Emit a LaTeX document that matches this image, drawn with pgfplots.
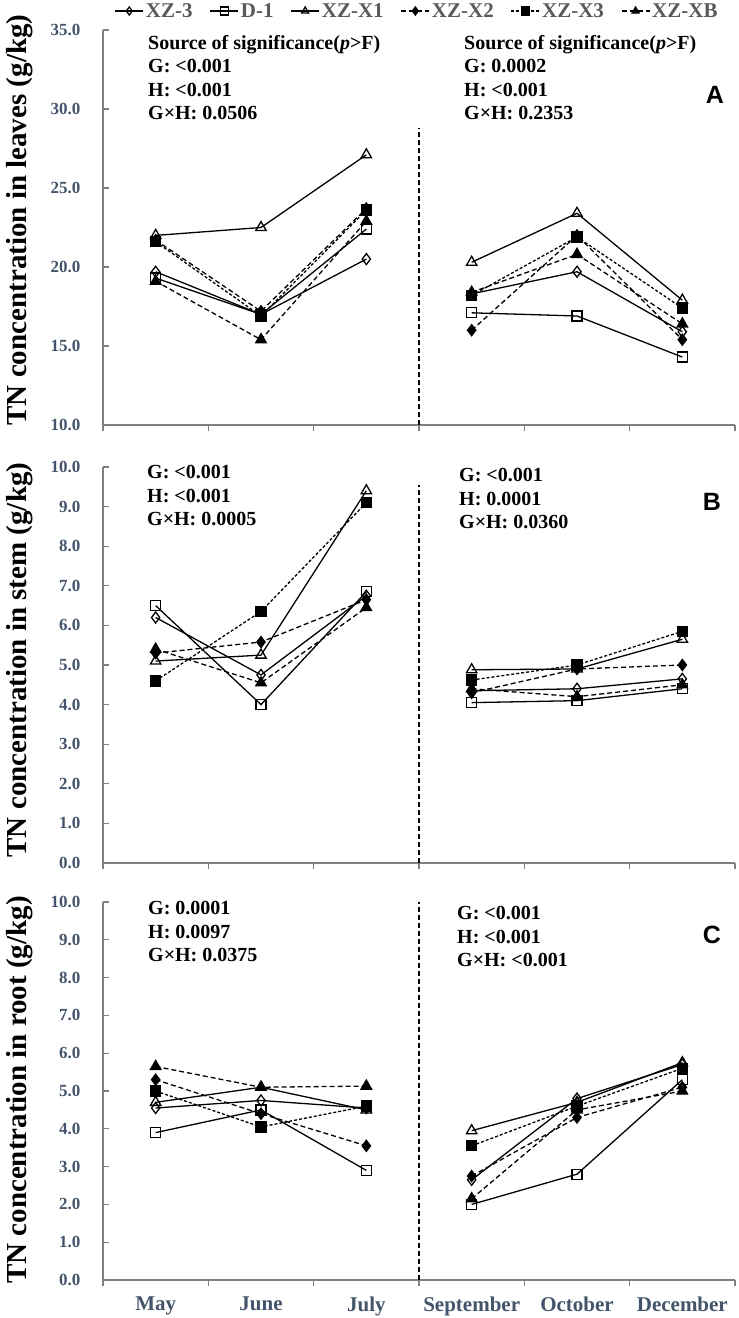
\documentclass[border=0pt]{standalone}
\usepackage{fontspec}
\setmainfont{Liberation Serif}
\newfontfamily\sansfont{Liberation Sans}
\usepackage{pgfplots}
\pgfplotsset{compat=1.18}
\definecolor{ticklab}{RGB}{68,84,106}
\definecolor{axgray}{RGB}{128,128,128}
\definecolor{legtext}{RGB}{90,90,90}
\pgfplotsset{
  panel/.style={
    scale only axis, width=632pt, xmin=-0.5, xmax=5.5,
    axis lines=left, axis line style={-, axgray, line width=1.3pt},
    xtick={-0.5,0.5,...,5.5}, xticklabels={},
    xtick align=outside, ytick align=inside,
    major tick length=6pt,
    every tick/.style={axgray, line width=1.3pt},
    /pgf/number format/assume math mode=true,
    /pgf/number format/.cd, fixed, fixed zerofill, precision=1, /pgfplots/.cd,
    yticklabel style={font=\bfseries\fontsize{17}{17}\selectfont, text=ticklab, xshift=-19pt},
    unbounded coords=jump, clip=false,
    every axis plot/.append style={black, line width=1.3pt},
  },
  s1/.style={solid, mark=diamond, mark size=5.5pt, mark options={solid, fill=white}},
  s2/.style={solid, mark=square, mark size=5pt, mark options={solid, fill=white}},
  s3/.style={solid, mark=triangle, mark size=6pt, mark options={solid, fill=white}},
  s4/.style={dash pattern=on 5pt off 3pt, mark=diamond*, mark size=5.5pt, mark options={solid, fill=black}},
  s5/.style={dash pattern=on 3pt off 2pt, mark=square*, mark size=5pt, mark options={solid, fill=black}},
  s6/.style={dash pattern=on 5pt off 3pt, mark=triangle*, mark size=6pt, mark options={solid, fill=black}},
}
\begin{document}
\begin{tikzpicture}
\path[use as bounding box] (0pt,0pt) rectangle (739pt,-1318pt);
% ---------------- Panel A
\begin{axis}[panel, at={(103pt,-425pt)}, anchor=south west, height=395pt,
  ymin=10, ymax=35, ytick={10,15,...,35},
  legend columns=6,
  legend style={at={(0.497,1)}, anchor=center, draw=none, fill=none, yshift=19pt,
    font=\bfseries\fontsize{21}{21}\selectfont, text=legtext,
    /tikz/every even column/.append style={column sep=15pt}},
  legend image code/.code={\draw[mark repeat=2, mark phase=2, mark size=4pt] plot coordinates {(0pt,0pt) (14pt,0pt) (28pt,0pt)};},
]
\addplot[s1] coordinates {(0,19.7)(1,17.0)(2,20.5)(2.5,nan)(3,18.3)(4,19.7)(5,15.9)};
\addplot[s2] coordinates {(0,19.3)(1,17.0)(2,22.4)(2.5,nan)(3,17.1)(4,16.9)(5,14.3)};
\addplot[s3] coordinates {(0,22.0)(1,22.5)(2,27.1)(2.5,nan)(3,20.3)(4,23.4)(5,17.9)};
\addplot[s4] coordinates {(0,21.7)(1,17.2)(2,23.7)(2.5,nan)(3,16.0)(4,22.0)(5,15.4)};
\addplot[s5] coordinates {(0,21.6)(1,16.9)(2,23.6)(2.5,nan)(3,18.2)(4,21.9)(5,17.4)};
\addplot[s6] coordinates {(0,19.1)(1,15.4)(2,22.9)(2.5,nan)(3,18.4)(4,20.8)(5,16.4)};
\legend{XZ-3,D-1,XZ-X1,XZ-X2,XZ-X3,XZ-XB}
\addplot[forget plot, dash pattern=on 5pt off 3pt, mark=none] coordinates {(2.5,10)(2.5,28.8)};
\end{axis}
% ---------------- Panel B
\begin{axis}[panel, at={(103pt,-863pt)}, anchor=south west, height=396pt,
  ymin=0, ymax=10, ytick={0,1,...,10}]
\addplot[s1] coordinates {(0,6.2)(1,4.75)(2,6.75)(2.5,nan)(3,4.35)(4,4.4)(5,4.65)};
\addplot[s2] coordinates {(0,6.5)(1,4.0)(2,6.85)(2.5,nan)(3,4.05)(4,4.1)(5,4.4)};
\addplot[s3] coordinates {(0,5.1)(1,5.25)(2,9.4)(2.5,nan)(3,4.88)(4,4.9)(5,5.65)};
\addplot[s4] coordinates {(0,5.3)(1,5.58)(2,6.65)(2.5,nan)(3,4.3)(4,4.9)(5,5.0)};
\addplot[s5] coordinates {(0,4.6)(1,6.35)(2,9.1)(2.5,nan)(3,4.62)(4,5.0)(5,5.85)};
\addplot[s6] coordinates {(0,5.4)(1,4.55)(2,6.45)(2.5,nan)(3,4.4)(4,4.2)(5,4.5)};
\addplot[dash pattern=on 5pt off 3pt, mark=none] coordinates {(2.5,0)(2.5,9.55)};
\end{axis}
% ---------------- Panel C
\begin{axis}[panel, at={(103pt,-1280pt)}, anchor=south west, height=378pt,
  ymin=0, ymax=10, ytick={0,1,...,10},
  extra x ticks={0,1,2,3,4,5},
  extra x tick labels={May,June,July,September,October,December},
  extra x tick style={major tick length=0pt,
    xticklabel style={font=\bfseries\fontsize{21}{21}\selectfont, text=ticklab, yshift=-13pt}}]
\addplot[s1] coordinates {(0,4.55)(1,4.75)(2,4.55)(2.5,nan)(3,2.65)(4,4.8)(5,5.7)};
\addplot[s2] coordinates {(0,3.9)(1,4.5)(2,2.9)(2.5,nan)(3,2.0)(4,2.8)(5,5.3)};
\addplot[s3] coordinates {(0,4.7)(1,5.1)(2,4.5)(2.5,nan)(3,3.95)(4,4.7)(5,5.75)};
\addplot[s4] coordinates {(0,5.3)(1,4.4)(2,3.55)(2.5,nan)(3,2.75)(4,4.3)(5,5.1)};
\addplot[s5] coordinates {(0,5.0)(1,4.05)(2,4.6)(2.5,nan)(3,3.55)(4,4.6)(5,5.6)};
\addplot[s6] coordinates {(0,5.65)(1,5.1)(2,5.13)(2.5,nan)(3,2.15)(4,4.5)(5,5.0)};
\addplot[dash pattern=on 5pt off 3pt, mark=none] coordinates {(2.5,0)(2.5,10)};
\end{axis}
% ---------------- annotations
\tikzset{ann/.style={anchor=north west, align=left, inner sep=0pt,
  font=\bfseries\fontsize{20}{23.5}\selectfont}}
\node[ann] at (148pt,-35pt) {Source of significance(\textit{p}>F)\\G: <0.001\\H: <0.001\\G×H: 0.0506};
\node[ann] at (464pt,-35pt) {Source of significance(\textit{p}>F)\\G: 0.0002\\H: <0.001\\G×H: 0.2353};
\node[ann] at (147pt,-465pt) {G: <0.001\\H: <0.001\\G×H: 0.0005};
\node[ann] at (459pt,-468pt) {G: <0.001\\H: 0.0001\\G×H: 0.0360};
\node[ann] at (148pt,-901pt) {G: 0.0001\\H: 0.0097\\G×H: 0.0375};
\node[ann] at (457pt,-906pt) {G: <0.001\\H: <0.001\\G×H: <0.001};
\tikzset{pl/.style={font=\sansfont\bfseries\fontsize{25}{25}\selectfont}}
\node[pl] at (715pt,-95pt) {A};
\node[pl] at (712pt,-502pt) {B};
\node[pl] at (712pt,-935pt) {C};
\tikzset{yl/.style={rotate=90, font=\bfseries\fontsize{29}{29}\selectfont}}
\node[yl] at (20pt,-220pt) {TN concentration in leaves (g/kg)};
\node[yl] at (20pt,-660pt) {TN concentration in stem (g/kg)};
\node[yl] at (20pt,-1090pt) {TN concentration in root (g/kg)};
\end{tikzpicture}
\end{document}
